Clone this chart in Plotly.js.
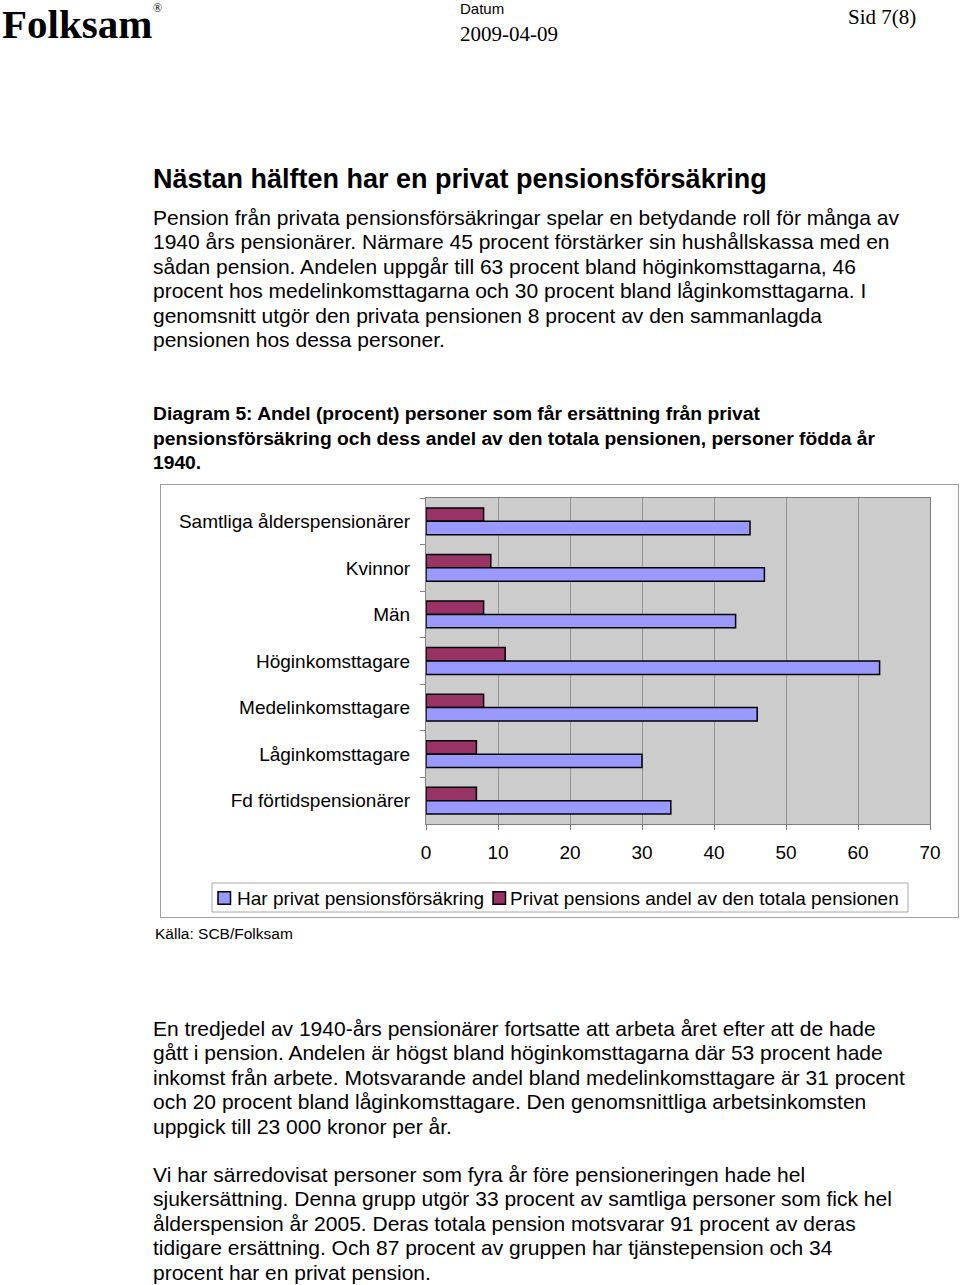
<!DOCTYPE html>
<html>
<head>
<meta charset="utf-8">
<script src="https://cdn.plot.ly/plotly-3.0.1.min.js"></script>
<style>
  html, body { margin: 0; padding: 0; background: #fff; }
  #page { position: relative; width: 960px; height: 1285px; overflow: hidden; background: #fff; color: #000; }
  .t { position: absolute; white-space: nowrap; font-family: "Liberation Sans", Arial, sans-serif; }
  .serif { font-family: "Liberation Serif", "Times New Roman", serif; }
  .para { font-size: 21px; line-height: 24.4px; }
  #chartframe { position: absolute; left: 160px; top: 484px; width: 797px; height: 432px; border: 1px solid #a0a0a0; }
  #chart { position: absolute; left: 0; top: 0; width: 797px; height: 432px; }
</style>
</head>
<body>
<div id="page">
  <div class="t serif" style="left:2px; top:1px; font-size:41px; line-height:47px; font-weight:bold;">Folksam</div>
  <div class="t serif" style="left:153px; top:1px; font-size:12px; line-height:14px;">®</div>
  <div class="t" style="left:460px; top:0px; font-size:15px;">Datum</div>
  <div class="t serif" style="left:460px; top:22px; font-size:21px;">2009-04-09</div>
  <div class="t serif" style="left:848px; top:5px; font-size:21px;">Sid 7(8)</div>

  <div class="t" style="left:153px; top:164px; font-size:27px; line-height:30px; font-weight:bold;">Nästan hälften har en privat pensionsförsäkring</div>

  <div class="t para" style="left:153px; top:206px;">Pension från privata pensionsförsäkringar spelar en betydande roll för många av<br>1940 års pensionärer. Närmare 45 procent förstärker sin hushållskassa med en<br>sådan pension. Andelen uppgår till 63 procent bland höginkomsttagarna, 46<br>procent hos medelinkomsttagarna och 30 procent bland låginkomsttagarna. I<br>genomsnitt utgör den privata pensionen 8 procent av den sammanlagda<br>pensionen hos dessa personer.</div>

  <div class="t" style="left:153px; top:402px; font-size:19.25px; line-height:24.5px; font-weight:bold;">Diagram 5: Andel (procent) personer som får ersättning från privat<br>pensionsförsäkring och dess andel av den totala pensionen, personer födda år<br>1940.</div>

  <div id="chartframe"><div id="chart"></div></div>

  <div class="t" style="left:155px; top:925px; font-size:15.5px;">Källa: SCB/Folksam</div>

  <div class="t para" style="left:153px; top:1017px;">En tredjedel av 1940-års pensionärer fortsatte att arbeta året efter att de hade<br>gått i pension. Andelen är högst bland höginkomsttagarna där 53 procent hade<br>inkomst från arbete. Motsvarande andel bland medelinkomsttagare är 31 procent<br>och 20 procent bland låginkomsttagare. Den genomsnittliga arbetsinkomsten<br>uppgick till 23 000 kronor per år.</div>

  <div class="t para" style="left:153px; top:1163px;">Vi har särredovisat personer som fyra år före pensioneringen hade hel<br>sjukersättning. Denna grupp utgör 33 procent av samtliga personer som fick hel<br>ålderspension år 2005. Deras totala pension motsvarar 91 procent av deras<br>tidigare ersättning. Och 87 procent av gruppen har tjänstepension och 34<br>procent har en privat pension.</div>
</div>

<script>
const categories = [
  "Samtliga ålderspensionärer",
  "Kvinnor",
  "Män",
  "Höginkomsttagare",
  "Medelinkomsttagare",
  "Låginkomsttagare",
  "Fd förtidspensionärer"
];
const harPrivat = [45, 47, 43, 63, 46, 30, 34];
const andelTotal = [8, 9, 8, 11, 8, 7, 7];
const seriesNames = ["Har privat pensionsförsäkring", "Privat pensions andel av den totala pensionen"];
const seriesColors = ["#9999FF", "#993366"];
const xTicks = [0, 10, 20, 30, 40, 50, 60, 70];

const FONT = '"Liberation Sans", Arial, sans-serif';

// chart geometry (pixels inside the chart div)
const W = 797, H = 432;
const M = {l: 265, r: 28, t: 13, b: 93};
const PW = W - M.l - M.r, PH = H - M.t - M.b;
// convert chart-div pixel coordinates into paper fractions (for the legend box)
const px = x => (x - M.l) / PW;
const py = y => 1 - (y - M.t) / PH;
// legend layout, pixels relative to chart div origin (page 161,485)
const OX = 161, OY = 485;
const leg = {x0: 212 - OX, x1: 908 - OX, y0: 883 - OY, y1: 912 - OY, cy: 898 - OY};
const sw = [{x0: 218 - OX, tx: 235 - OX}, {x0: 493 - OX, tx: 508 - OX}];
const swSize = 12.5;

const traces = [
  {
    type: 'bar', orientation: 'h', name: seriesNames[1],
    y: categories, x: andelTotal,
    marker: {color: seriesColors[1], line: {color: '#000', width: 1.5}},
    hoverinfo: 'none'
  },
  {
    type: 'bar', orientation: 'h', name: seriesNames[0],
    y: categories, x: harPrivat,
    marker: {color: seriesColors[0], line: {color: '#000', width: 1.5}},
    hoverinfo: 'none'
  }
];

const shapes = [
  {type: 'rect', xref: 'paper', yref: 'paper', x0: px(leg.x0), x1: px(leg.x1), y0: py(leg.y0), y1: py(leg.y1),
   line: {color: '#a8a8a8', width: 1}, fillcolor: '#ffffff', layer: 'above'}
];
const annotations = [];
sw.forEach((s, i) => {
  shapes.push({type: 'rect', xref: 'paper', yref: 'paper',
    x0: px(s.x0), x1: px(s.x0 + swSize), y0: py(leg.cy - swSize / 2), y1: py(leg.cy + swSize / 2),
    line: {color: '#000', width: 1.5}, fillcolor: seriesColors[i], layer: 'above'});
  annotations.push({xref: 'paper', yref: 'paper', x: px(s.tx), y: py(leg.cy),
    xanchor: 'left', yanchor: 'middle', showarrow: false, text: seriesNames[i],
    font: {family: FONT, size: 19, color: '#000'}});
});

const layout = {
  width: W, height: H,
  margin: {l: M.l, r: M.r, t: M.t, b: M.b, autoexpand: false},
  paper_bgcolor: '#ffffff',
  plot_bgcolor: '#cccccc',
  font: {family: FONT, size: 19, color: '#000'},
  barmode: 'group',
  bargap: 0.425,
  bargroupgap: 0,
  showlegend: false,
  shapes: shapes,
  annotations: annotations,
  xaxis: {
    range: [0, 70], tickvals: xTicks, ticktext: xTicks.map(String),
    showgrid: true, gridcolor: '#959595', gridwidth: 1,
    showline: true, linecolor: '#808080', linewidth: 1, mirror: true,
    ticks: 'outside', ticklen: 5, tickcolor: '#808080',
    ticklabelstandoff: 6,
    zeroline: false, fixedrange: true, automargin: false,
    tickfont: {size: 19}
  },
  yaxis: {
    autorange: 'reversed', type: 'category',
    showgrid: false,
    showline: true, linecolor: '#808080', linewidth: 1, mirror: true,
    ticks: 'outside', ticklen: 5, tickcolor: '#808080', tickson: 'boundaries',
    ticklabelstandoff: 11,
    fixedrange: true, automargin: false,
    tickfont: {size: 19}
  }
};

Plotly.newPlot('chart', traces, layout, {staticPlot: true, displayModeBar: false});
</script>
</body>
</html>
